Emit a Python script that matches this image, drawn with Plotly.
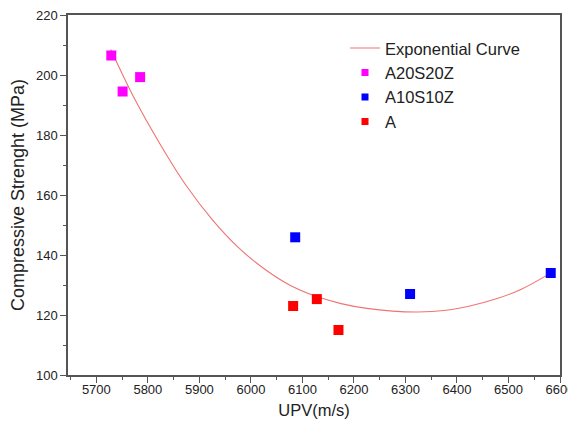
import plotly.graph_objects as go

# Data
a20_x = [5729, 5751, 5785]
a20_y = [206.5, 194.5, 199.3]
a10_x = [6086, 6309, 6582]
a10_y = [145.9, 127.0, 134.0]
a_x = [6082, 6128, 6170]
a_y = [123.0, 125.3, 115.0]

curve_x = [5728, 5775, 5825, 5875, 5925, 5975, 6025, 6075, 6125, 6175, 6225,
           6275, 6325, 6375, 6425, 6475, 6525, 6580]
curve_y = [208.5, 191.8, 176.6, 163.0, 151.8, 142.6, 135.5, 130.0, 126.3, 123.8, 122.2,
           121.3, 121.0, 121.5, 123.0, 125.3, 128.6, 133.8]

x_ticks = [5700, 5800, 5900, 6000, 6100, 6200, 6300, 6400, 6500, 6600]
y_ticks = [100, 120, 140, 160, 180, 200, 220]

series = [("A20S20Z", a20_x, a20_y, "#ff00ff"),
          ("A10S10Z", a10_x, a10_y, "#0000ff"),
          ("A", a_x, a_y, "#ff0000")]

fig = go.Figure()
fig.add_trace(go.Scatter(x=curve_x, y=curve_y, mode="lines", name="Exponential Curve",
                         line=dict(color="rgb(240,115,115)", width=1.1, shape="spline", smoothing=1)))
for name, xs, ys, col in series:
    fig.add_trace(go.Scatter(x=xs, y=ys, mode="markers", name=name, legendgroup=name,
                             showlegend=False,
                             marker=dict(symbol="square", size=10, color=col)))
    # legend entry with the smaller symbol used in the reference legend
    fig.add_trace(go.Scatter(x=[None], y=[None], mode="markers", name=name, legendgroup=name,
                             marker=dict(symbol="square", size=7, color=col)))

axis_col = "#555555"
fig.update_layout(
    width=568, height=424,
    margin=dict(l=60, r=16, t=7, b=57, autoexpand=False),
    paper_bgcolor="white", plot_bgcolor="white",
    font=dict(family="Liberation Sans, Arial, sans-serif", color="#222222"),
    showlegend=True,
    legend=dict(x=0.563, y=0.956, xanchor="left", yanchor="top",
                font=dict(size=16.5, color="#222222"), bgcolor="rgba(0,0,0,0)",
                itemsizing="trace", tracegroupgap=0),
    xaxis=dict(range=[5645, 6600], tickvals=x_ticks, ticks="outside", ticklen=6, tickwidth=1.2,
               tickcolor=axis_col, showline=True, linecolor=axis_col, linewidth=1.5, mirror=True,
               showgrid=False, zeroline=False, automargin=False, ticklabelstandoff=-4,
               ticklabeloverflow="allow",
               tickfont=dict(family="Liberation Sans Narrow, Arial Narrow, Liberation Sans, Arial", size=13),
               title=dict(text="UPV(m/s)", font=dict(size=16.5), standoff=8),
               minor=dict(dtick=50, tick0=5650, ticks="outside", ticklen=3, tickcolor=axis_col)),
    yaxis=dict(range=[100, 220], tickvals=y_ticks, ticks="outside", ticklen=6, tickwidth=1.2,
               tickcolor=axis_col, showline=True, linecolor=axis_col, linewidth=1.5, mirror=True,
               showgrid=False, zeroline=False, automargin=False, ticklabeloverflow="allow",
               tickfont=dict(size=13),
               title=dict(text="Compressive Strenght (MPa)", font=dict(size=18), standoff=8),
               minor=dict(dtick=10, tick0=100, ticks="outside", ticklen=3, tickcolor=axis_col)),
)

fig.write_html("out.html")
